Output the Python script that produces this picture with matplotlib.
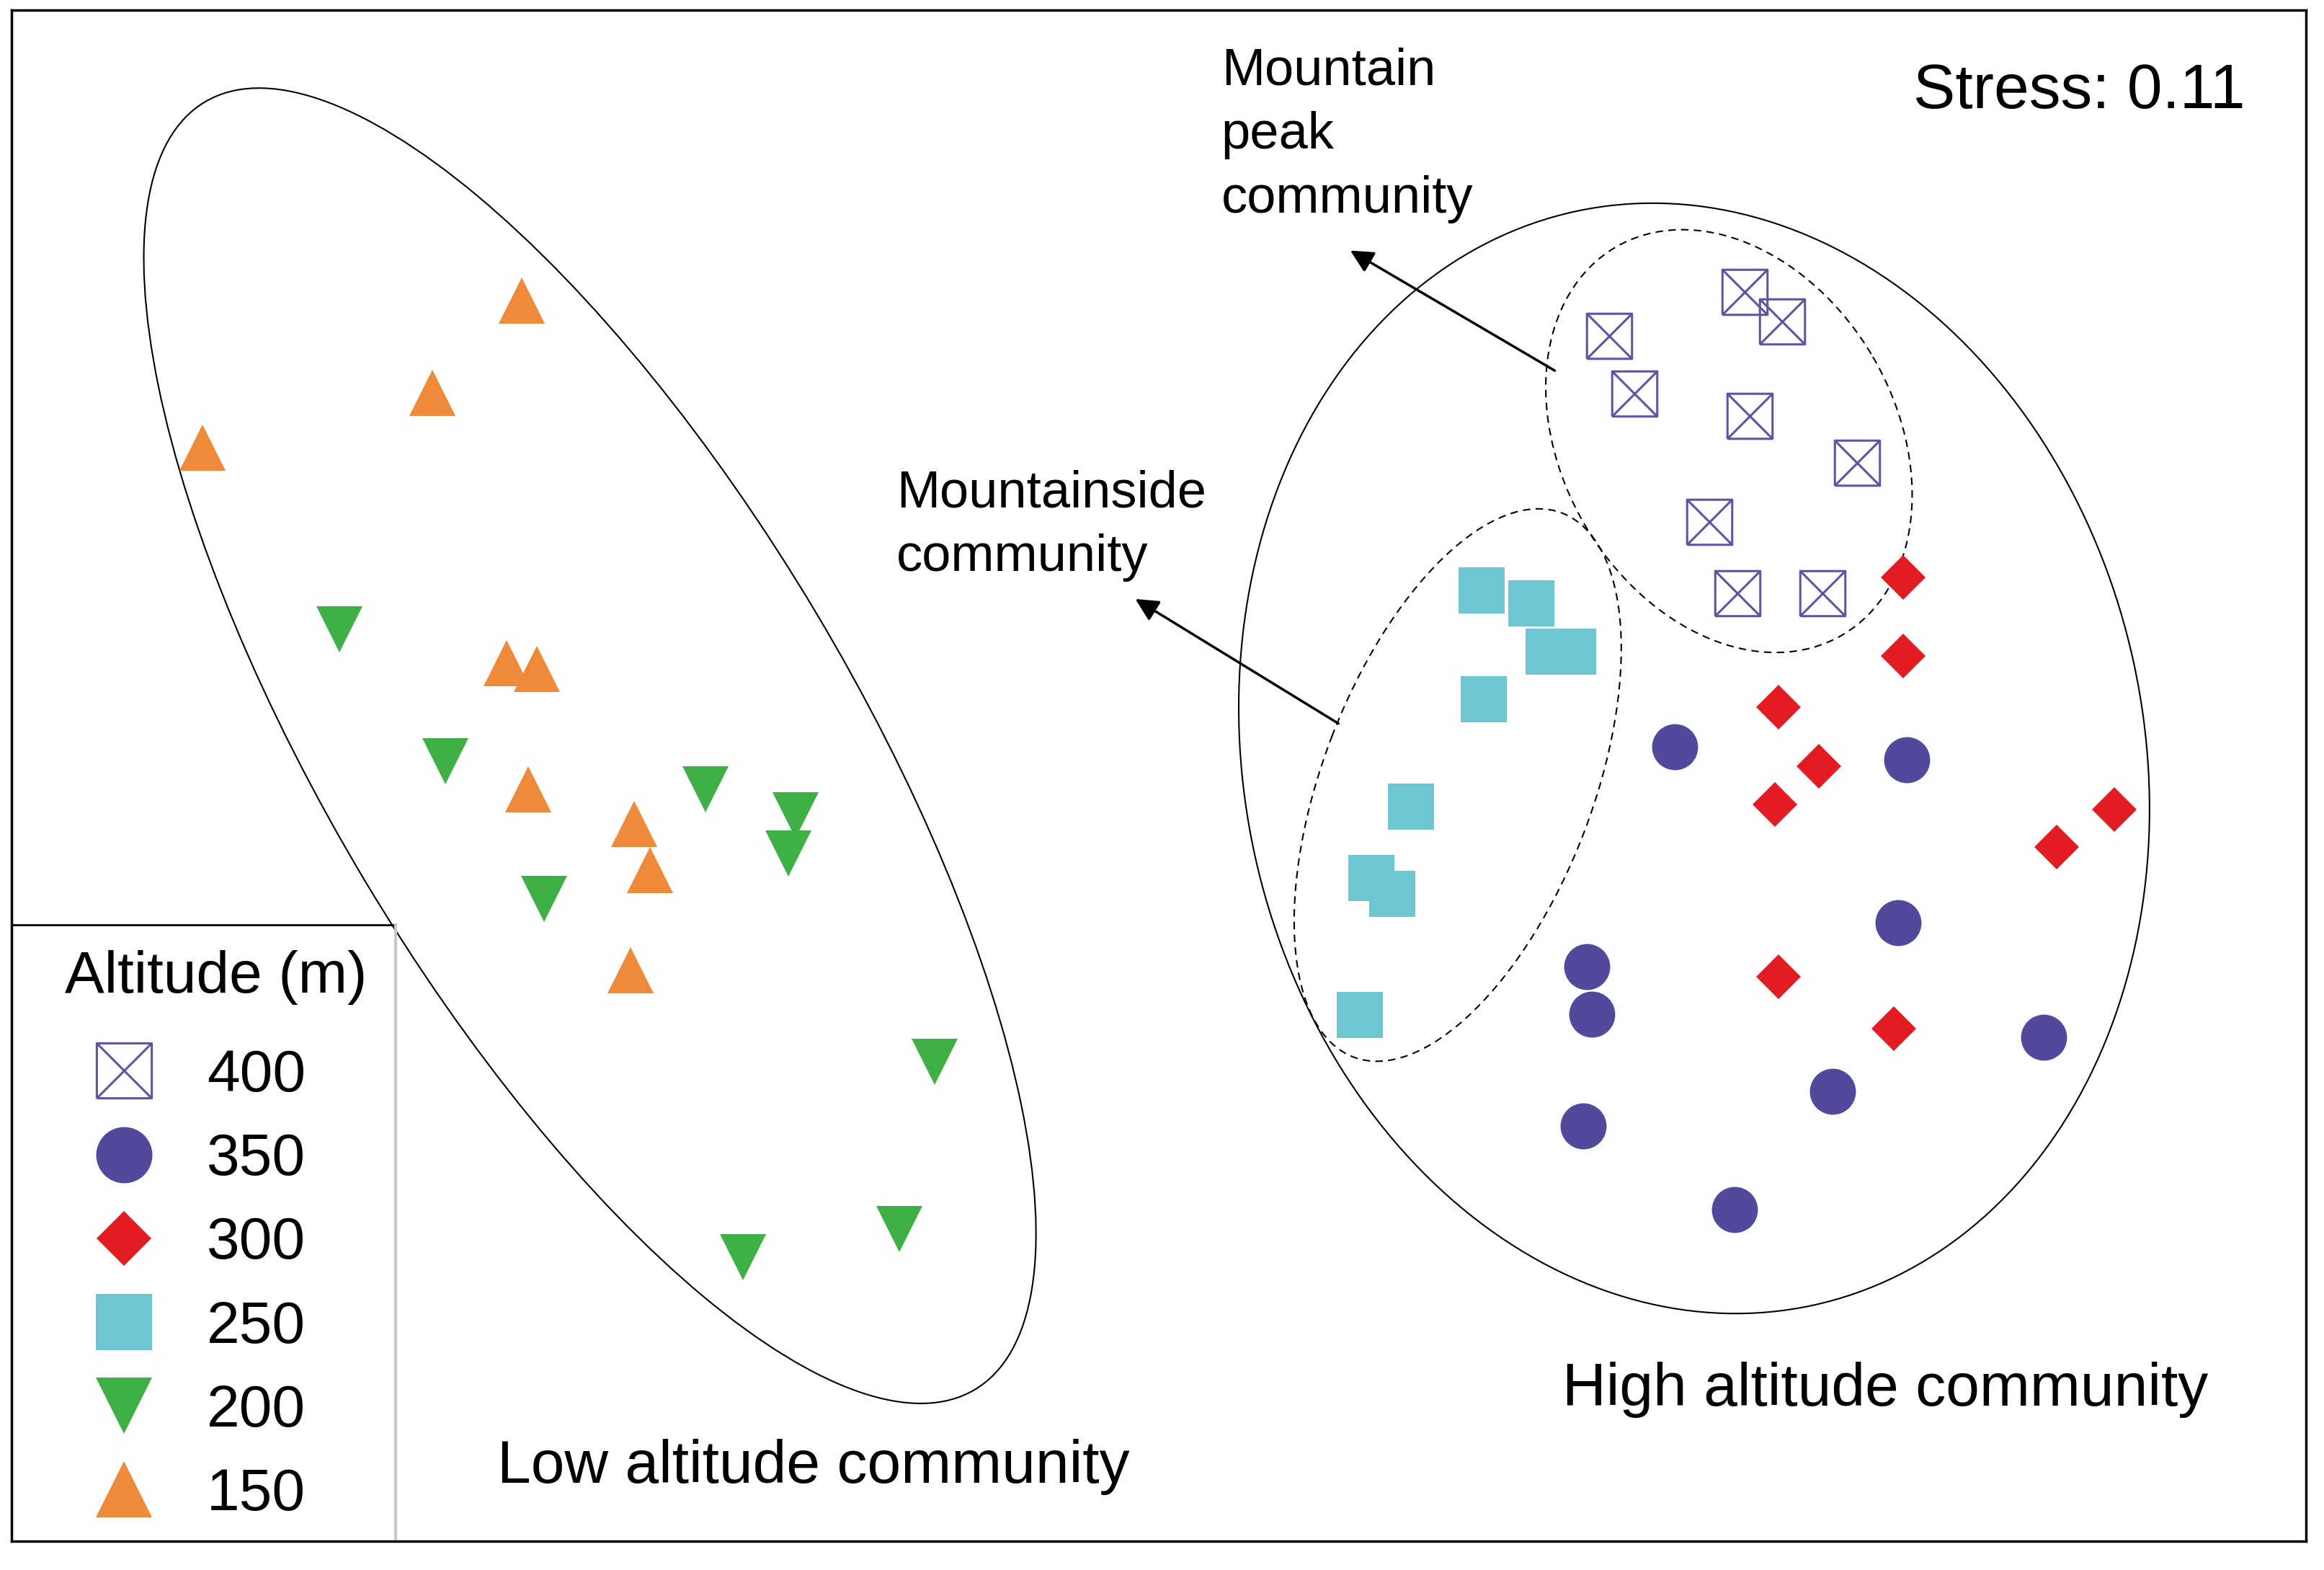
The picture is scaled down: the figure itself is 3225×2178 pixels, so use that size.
import numpy as np
import matplotlib.pyplot as plt
from matplotlib.patches import Ellipse
from matplotlib.path import Path

plt.rcParams['font.family'] = ['Liberation Sans', 'DejaVu Sans']

# NMDS site scores (plot units, y grows downward)
alt_labels = ['400', '350', '300', '250', '200', '150']

x400 = [1085.5, 1177.2, 1202.3, 1102.7, 1180.7, 1252.7, 1153.0, 1172.1, 1229.5]
y400 = [226.4, 196.7, 216.9, 265.6, 280.5, 312.2, 352.1, 400.1, 400.1]

x350 = [1129.8, 1286.4, 1280.4, 1070.4, 1074.0, 1378.6, 1236.6, 1068.4, 1170.1]
y350 = [503.5, 512.3, 622.4, 652.1, 683.9, 699.5, 736.0, 759.6, 815.7]

x300 = [1283.9, 1283.9, 1199.8, 1227.0, 1197.3, 1426.4, 1387.6, 1199.8, 1277.9]
y300 = [389.3, 442.6, 477.1, 517.0, 542.7, 546.0, 571.1, 658.9, 694.0]

x250 = [999.4, 1033.2, 1044.8, 1061.4, 1001.0, 952.1, 925.4, 939.5, 917.4]
y250 = [398.0, 406.8, 439.3, 439.3, 471.7, 544.0, 592.0, 602.8, 684.6]

x200 = [229.2, 300.6, 475.8, 536.8, 531.8, 367.1, 630.5, 606.7, 501.1]
y200 = [424.4, 513.6, 532.5, 550.1, 575.8, 606.2, 716.4, 829.2, 848.1]

x150 = [352.2, 291.7, 136.4, 341.8, 362.2, 356.2, 428.1, 438.6, 425.6]
y150 = [202.7, 264.9, 302.1, 447.4, 451.4, 532.5, 555.5, 586.6, 654.2]

# group ellipses: centre x, centre y, width, height, angle
low_ell = (398, 503, 1012, 354, 59.1)
high_ell = (1143, 511.5, 755, 607, 77.7)
peak_ell = (1166.5, 297.5, 303, 225, 59.7)
side_ell = (983.5, 529.5, 393, 182, -69)

fig = plt.figure(figsize=(32.25, 21.78), dpi=100)
ax = fig.add_axes([16 / 3225, 40 / 2178, 3184 / 3225, 2124 / 2178])
ax.set_xlim(7.8, 1555.8)
ax.set_ylim(1039.5, 6.8)
ax.set_xticks([])
ax.set_yticks([])
for s in ax.spines.values():
    s.set_linewidth(2.5)
    s.set_color('black')

# square with a cross
box_x = Path([(-1, -1), (1, -1), (1, 1), (-1, 1), (-1, -1), (-1, -1), (1, 1), (-1, 1), (1, -1)],
             [Path.MOVETO, Path.LINETO, Path.LINETO, Path.LINETO, Path.LINETO,
              Path.MOVETO, Path.LINETO, Path.MOVETO, Path.LINETO])

for e, ls in [(low_ell, '-'), (high_ell, '-'), (peak_ell, (0, (5, 3.5))), (side_ell, (0, (5, 3.5)))]:
    ax.add_patch(Ellipse((e[0], e[1]), e[2], e[3], angle=e[4], fill=False,
                         ec='black', lw=1.5, linestyle=ls))

h = []
h += ax.plot(x400, y400, ls='none', marker=box_x, ms=45, mfc='none', mec='#5b55a3', mew=2.2)
h += ax.plot(x350, y350, ls='none', marker='o', ms=46, mfc='#514a9c', mew=0)
h += ax.plot(x300, y300, ls='none', marker='D', ms=32, mfc='#e31b23', mew=0)
h += ax.plot(x250, y250, ls='none', marker='s', ms=46, mfc='#6ec6d2', mew=0)
h += ax.plot(x200, y200, ls='none', marker='v', ms=46, mfc='#3fb045', mew=0)
h += ax.plot(x150, y150, ls='none', marker='^', ms=46, mfc='#ee8a3a', mew=0)

arrow = dict(arrowstyle='-|>', color='black', lw=2.5, mutation_scale=48, shrinkA=0, shrinkB=0)
ax.annotate('', xy=(911, 169), xytext=(1049, 250), arrowprops=arrow)
ax.annotate('', xy=(766, 404), xytext=(903, 488), arrowprops=arrow)

ax.text(824, 143.4, 'Mountain\npeak\ncommunity', fontsize=52, va='baseline', ha='left', linespacing=1.42)
ax.text(605, 385, 'Mountainside\ncommunity', fontsize=52, va='baseline', ha='left', linespacing=1.42)
ax.text(1291, 72.9, 'Stress: 0.11', fontsize=63, va='baseline', ha='left')
ax.text(335.5, 1000, 'Low altitude community', fontsize=60.5, va='baseline', ha='left')
ax.text(1054, 948, 'High altitude community', fontsize=60.5, va='baseline', ha='left')

# legend box
box_top, box_right = 623.6, 267
ax.plot([7.8, box_right], [box_top, box_top], color='black', lw=2)
ax.plot([box_right, box_right], [box_top, 1039.5], color='#c8c8c8', lw=3)
ax.text(43.8, 669.5, 'Altitude (m)', fontsize=59, va='baseline', ha='left')

ax.legend(h, alt_labels, loc='upper left', bbox_to_anchor=(0.0234, 0.3215),
          frameon=False, fontsize=59, handlelength=2.0, handletextpad=0.4,
          labelspacing=0.49, borderpad=0, borderaxespad=0, markerscale=1.22)

fig.savefig('out.png', dpi=100)
